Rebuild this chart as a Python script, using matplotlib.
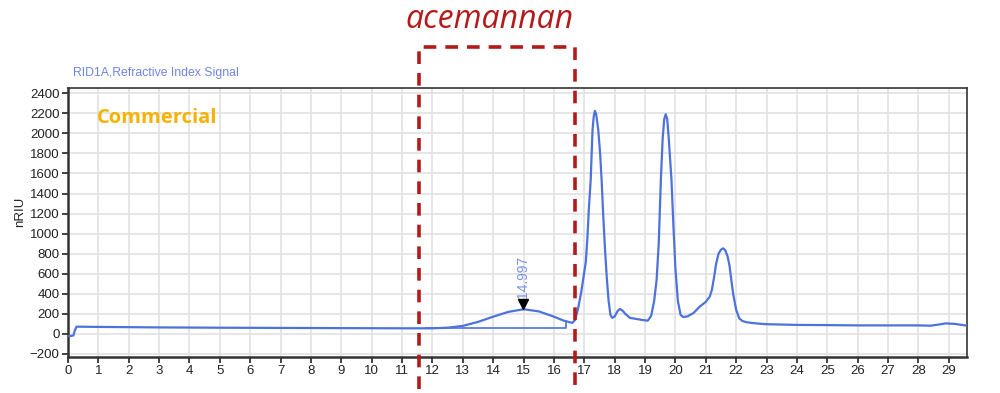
import matplotlib.pyplot as plt
import matplotlib.transforms as mtransforms

# retention time (min) and signal (nRIU)
time = [0, 0.1, 0.18, 0.22, 0.28, 0.4, 1, 3, 5, 7, 9, 11, 12, 12.5, 13, 13.5,
        14, 14.5, 15, 15.5, 16, 16.3, 16.6, 16.7, 16.8, 16.9, 17.0, 17.05,
        17.1, 17.15, 17.21, 17.27, 17.31, 17.35, 17.39, 17.43, 17.46, 17.52,
        17.57, 17.62, 17.68, 17.74, 17.8, 17.86, 17.92, 18.0, 18.1, 18.17,
        18.25, 18.35, 18.5, 18.72, 18.9, 19.09, 19.2, 19.3, 19.38, 19.45,
        19.52, 19.58, 19.63, 19.68, 19.73, 19.78, 19.87, 19.93, 20.0, 20.08,
        20.17, 20.25, 20.4, 20.6, 20.8, 21.0, 21.13, 21.2, 21.27, 21.34, 21.42,
        21.5, 21.57, 21.64, 21.72, 21.78, 21.84, 21.9, 22.0, 22.1, 22.2, 22.32,
        22.5, 22.7, 23, 24, 25, 26, 27, 28, 28.4, 28.7, 28.9, 29.2, 29.6]
signal = [-20, -20, -15, 30, 72, 72, 70, 65, 62, 60, 58, 56, 56, 62, 80, 120,
          172, 220, 246, 225, 172, 135, 110, 140, 260, 420, 620, 720,
          950, 1250, 1534, 2030, 2170, 2224, 2190, 2100, 2030, 1800,
          1534, 1200, 850, 560, 330, 190, 160, 175, 230, 249,
          235, 200, 160, 149, 140, 132, 180, 330, 538, 900,
          1534, 1950, 2140, 2190, 2140, 1950, 1534, 1100, 650, 330,
          190, 169, 175, 210, 272, 320, 372, 440, 560, 700, 800,
          840, 853, 835, 770, 680, 540, 400, 240, 156, 130, 118,
          110, 104, 97, 90, 88, 85, 85, 85, 82, 95, 105, 100, 82]

# integration baseline under the acemannan hump
base_x = [11.8, 16.4, 16.4]
base_y = [56, 56, 122]

peak_rt = 14.997
box_x = [11.55, 16.69]

blue = '#4d72dc'

fig = plt.figure(figsize=(10, 3.93), dpi=100)
ax = fig.add_axes([0.068, 0.0916, 0.899, 0.684])
plt.rcParams['font.family'] = ['Liberation Sans', 'DejaVu Sans']

ax.plot(time, signal, color=blue, lw=1.6, zorder=3, solid_joinstyle='round')
ax.plot(base_x, base_y, color=blue, lw=1.2, zorder=3)
ax.plot([peak_rt], [300], marker='v', color='black', markersize=7, zorder=4)
ax.text(peak_rt, 360, '14.997', rotation=90, ha='center', va='bottom',
        color='#7a92e0', fontsize=10, family='Liberation Sans')

ax.set_xlim(0, 29.6)
ax.set_ylim(-230, 2450)
ax.set_xticks(range(0, 30))
ax.set_yticks(range(-200, 2401, 200))
ax.grid(True, color='#e2e2e2', lw=1.2)
ax.set_axisbelow(True)
ax.tick_params(length=4, width=1.2, labelsize=9.5, pad=2, colors='#222222')
for lbl in ax.get_xticklabels() + ax.get_yticklabels():
    lbl.set_family('Liberation Sans')
for s in ax.spines.values():
    s.set_color('#333333')
    s.set_linewidth(1.2)
ax.spines['left'].set_linewidth(1.8)
ax.spines['bottom'].set_linewidth(1.8)

fig.text(0.02, 0.46, 'nRIU', rotation=90, ha='center', va='center',
         fontsize=9.5, family='Liberation Sans', color='#222222')
fig.text(0.073, 0.814, 'RID1A,Refractive Index Signal', ha='left', va='center',
         fontsize=8.8, family='Liberation Sans', color='#6f86e0')
ax.text(0.032, 0.888, 'Commercial', transform=ax.transAxes, ha='left',
        va='center', fontsize=14.5, fontweight='bold', color='#f5b300',
        family='Open Sans')

# dashed box marking the acemannan region
trans = mtransforms.blended_transform_factory(ax.transData, fig.transFigure)
red = '#b31a1a'
ax.plot([box_x[0], box_x[0], box_x[1], box_x[1]], [0.01, 0.88, 0.88, 0.01],
        transform=trans, color=red, lw=2.6, ls=(0, (3.5, 2.5)),
        clip_on=False, zorder=5)
fig.text(0.49, 0.929, 'acemannan', ha='center', va='baseline', fontsize=23,
         style='italic', color=red, family='Open Sans')

fig.savefig('out.png', dpi=100)
